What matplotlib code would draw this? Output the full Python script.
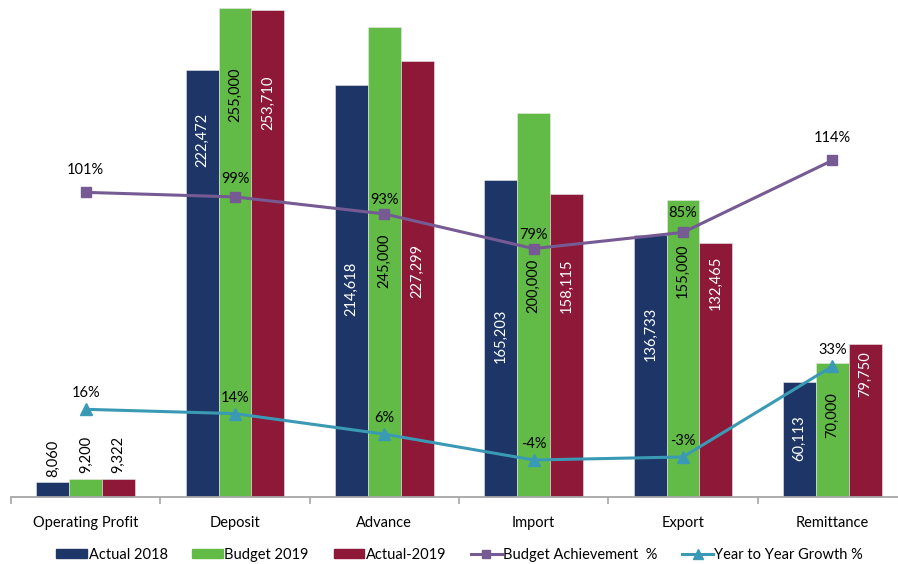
import matplotlib
matplotlib.use("Agg")
import matplotlib.pyplot as plt
import numpy as np
from matplotlib.lines import Line2D
from matplotlib.patches import Patch

plt.rcParams['font.family'] = ['Lato', 'DejaVu Sans']

categories = ["Operating Profit", "Deposit", "Advance", "Import", "Export", "Remittance"]
actual_2018 = [8060, 222472, 214618, 165203, 136733, 60113]
budget_2019 = [9200, 255000, 245000, 200000, 155000, 70000]
actual_2019 = [9322, 253710, 227299, 158115, 132465, 79750]
budget_achievement = [101.3, 99.5, 92.8, 79.1, 85.5, 113.9]
yoy_growth = [15.7, 14.0, 5.9, -4.3, -3.1, 32.7]
achievement_labels = ["101%", "99%", "93%", "79%", "85%", "114%"]
growth_labels = ["16%", "14%", "6%", "-4%", "-3%", "33%"]

# layout: vertical centres of the rotated value labels (data units)
label_centers = [
    [19900, 185900, 108400, 83800, 84800, 30900],
    [22000, 209400, 123000, 109900, 117800, 42900],
    [22000, 205200, 117800, 109900, 111500, 63900],
]

c_blue = "#1D3667"
c_green = "#62BB46"
c_red = "#8E1838"
c_purple = "#765A93"
c_teal = "#3A9AB5"

W, H = 898, 564
fig = plt.figure(figsize=(W / 100, H / 100), dpi=100)
left_px, right_px, base_px = 11, 907, 497
ax = fig.add_axes([left_px / W, (H - base_px) / H, (right_px - left_px) / W, base_px / H])

x = np.arange(len(categories))
bw = 0.22
series = [actual_2018, budget_2019, actual_2019]
colors = [c_blue, c_green, c_red]
txtcol = ["white", "black", "white"]
for i, (vals, col) in enumerate(zip(series, colors)):
    xs = x + (i - 1) * bw
    ax.bar(xs, vals, bw, color=col, edgecolor="#E8E8E8", linewidth=0.4, zorder=2)
    for j, v in enumerate(vals):
        tc = "black" if j == 0 else txtcol[i]
        ax.text(xs[j], label_centers[i][j], f"{v:,}", rotation=90, ha="center", va="center",
                color=tc, fontsize=10.5, zorder=5)

ax.set_xlim(-0.5, 5.5)
ax.set_ylim(0, 259000)
ax.set_yticks([])
for s in ["top", "right", "left"]:
    ax.spines[s].set_visible(False)
ax.spines["bottom"].set_color("#A6A6A6")
ax.spines["bottom"].set_linewidth(1.3)
ax.set_xticks(np.arange(-0.5, 6.0, 1.0))
ax.set_xticklabels([])
ax.tick_params(axis="x", length=5, color="#A6A6A6", width=1.2)
ax.set_xticks(x, minor=True)
ax.set_xticklabels(categories, minor=True, fontsize=10.5)
ax.tick_params(axis="x", which="minor", length=0, pad=14)

ax2 = ax.twinx()
ax2.set_ylim(-18.9, 177.2)
ax2.axis("off")
ax2.plot(x, budget_achievement, color=c_purple, lw=2.2, marker="s", ms=7, zorder=6)
ax2.plot(x, yoy_growth, color=c_teal, lw=2.2, marker="^", ms=8, zorder=6)
ach_off = [22, 18, 14, 14, 19, 22]
for j in range(len(x)):
    ax2.annotate(achievement_labels[j], (x[j], budget_achievement[j]), xytext=(0, ach_off[j]),
                 textcoords="offset pixels", ha="center", va="center", fontsize=10.5, zorder=7)
    ax2.annotate(growth_labels[j], (x[j], yoy_growth[j]), xytext=(0, 16),
                 textcoords="offset pixels", ha="center", va="center", fontsize=10.5, zorder=7)

handles = [
    Patch(color=c_blue), Patch(color=c_green), Patch(color=c_red),
    Line2D([], [], color=c_purple, lw=2.2, marker="s", ms=6),
    Line2D([], [], color=c_teal, lw=2.2, marker="^", ms=7),
]
labels = ["Actual 2018", "Budget 2019", "Actual-2019", "Budget Achievement  %", "Year to Year Growth %"]
fig.legend(handles, labels, loc="center", bbox_to_anchor=(0.512, 1 - 555 / H), ncol=5,
           frameon=False, fontsize=10.5, handlelength=2.1, handleheight=0.6,
           handletextpad=0.1, columnspacing=1.7)

fig.savefig("out.png", dpi=100)
